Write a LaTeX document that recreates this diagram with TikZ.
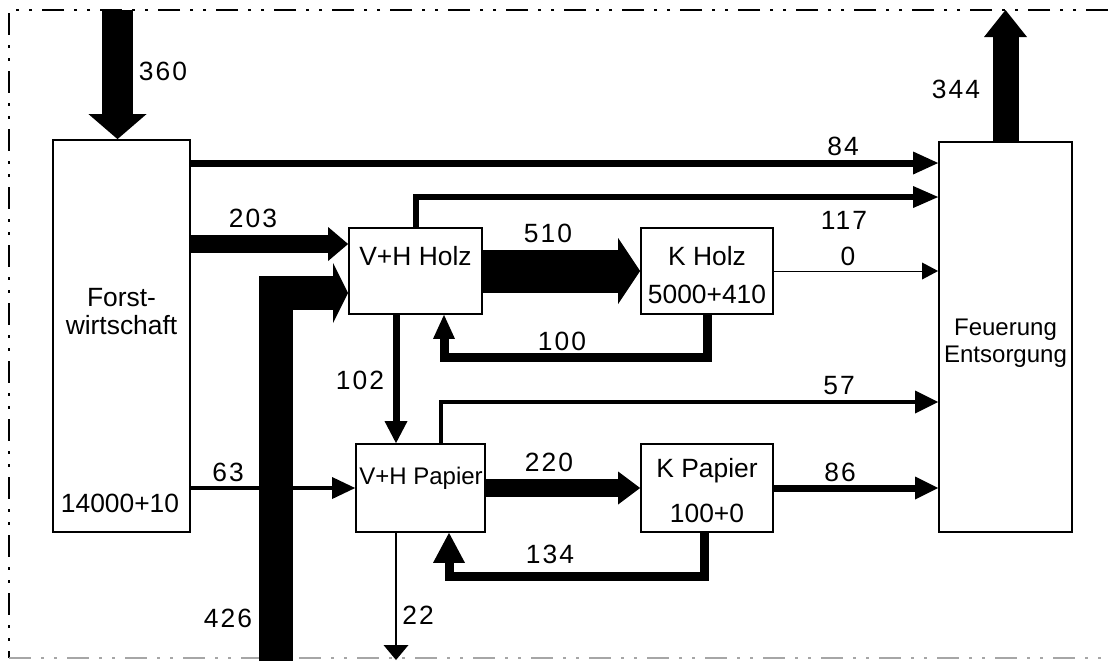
\documentclass[tikz,border=0pt]{standalone}
\usepackage{fontspec}
\setmainfont{Liberation Sans}
\newfontfamily\zahlfont[LetterSpace=8]{Liberation Sans}
\usetikzlibrary{arrows.meta, calc}

\tikzset{
  kasten/.style={draw, line width=0.9pt, fill=white, inner sep=0pt},
  rahmen/.style={line width=1pt,
    dash pattern=on 11pt off 5pt on 1.5pt off 5pt on 1.5pt off 5pt},
  strom/.style={line width=#1},
  spitze/.style 2 args={-{Triangle[length=#1, width=#2, line width=0pt]}},
  txt/.style={anchor=base, inner sep=0pt},
  engtxt/.style={txt, font=\fontsize{12}{14}\selectfont},
  zahl/.style={anchor=base, inner sep=0pt,
    font={\zahlfont\fontsize{13.2}{15}\selectfont}}
}

\begin{document}
\begin{tikzpicture}[x=0.5pt, y=-0.5pt, font=\fontsize{13.2}{15}\selectfont]
  \useasboundingbox (0,0) rectangle (1108,661);

  % Bilanzgrenze
  \draw[rahmen] (1108,10) -- (9,10) -- (9,658);
  \draw[rahmen, black!35] (9,658) -- (1108,658);

  % Prozesse
  \node[kasten, minimum width=68.5pt, minimum height=196pt] (forst) at (121.5,336) {};
  \node[kasten, minimum width=66.5pt, minimum height=195pt] (feuer) at (1005.5,337) {};
  \node[kasten, minimum width=66.5pt, minimum height=43pt] (vhholz) at (415.5,271) {};
  \node[kasten, minimum width=66pt, minimum height=43pt] (kholz) at (707,271) {};
  \node[kasten, minimum width=64.5pt, minimum height=44pt] (vhpap) at (420.5,488) {};
  \node[kasten, minimum width=66pt, minimum height=44pt] (kpap) at (707,488) {};

  \node[txt] (forst-a) at (121.5,306) {Forst-};
  \node[txt] (forst-b) at (121.5,334) {wirtschaft};
  \node[txt] (forst-c) at (120,512) {14000+10};
  \node[engtxt] (feuer-a) at (1005.5,335) {Feuerung};
  \node[engtxt] (feuer-b) at (1005.5,362) {Entsorgung};
  \node[txt] (vhholz-t) at (415.5,265) {V+H Holz};
  \node[txt] (kholz-a) at (707,265) {K Holz};
  \node[txt] (kholz-b) at (707,303) {5000+410};
  \node[engtxt] (vhpap-t) at (421,484) {V+H Papier};
  \node[txt] (kpap-a) at (707,477) {K Papier};
  \node[txt] (kpap-b) at (707,522) {100+0};

  % offene Enden
  \coordinate (ein360) at (117.5,10);
  \coordinate (aus344) at (1005.5,10);
  \coordinate (ein426) at (276,661);
  \coordinate (aus22) at (396,660);

  % Flüsse
  \draw[strom=15.5pt, spitze={12.5pt}{29pt}] (ein360) -- (ein360 |- forst.north);
  \draw[strom=13pt, spitze={13.5pt}{21.5pt}] (feuer.north) -- (aus344);
  \draw[strom=3.5pt, spitze={12.5pt}{11.5pt}] (forst.east |- 0,163) -- (feuer.west |- 0,163);
  \draw[strom=3pt, spitze={12.5pt}{11pt}] (vhholz.north) |- (feuer.west |- 0,197);
  \draw[strom=0.5pt, spitze={8pt}{8.5pt}] (kholz.east) -- (kholz.east -| feuer.west);
  \draw[strom=9pt, spitze={10pt}{17pt}] (forst.east |- 0,244) -- (vhholz.west |- 0,244);
  \draw[strom=2pt, spitze={11.5pt}{11pt}] (forst.east |- 0,488) -- (vhpap.west |- 0,488);
  \draw[strom=17pt, spitze={7.5pt}{30pt}] (ein426) |- (vhholz.west |- 0,293);
  \draw[strom=21.5pt, spitze={11pt}{33pt}] (vhholz.east) -- (kholz.west);
  \draw[strom=4.5pt, spitze={12pt}{11pt}] (kholz.south) -- ++(0,43) -| ($(vhholz.south)+(28.5,0)$);
  \draw[strom=3.5pt, spitze={11pt}{11.5pt}] ($(vhholz.south)+(-19.5,0)$) -- ($(vhpap.north)+(-24.5,0)$);
  \draw[strom=2pt, spitze={11.5pt}{11.5pt}] ($(vhpap.north)+(20.5,0)$) |- (feuer.west |- 0,402);
  \draw[strom=9pt, spitze={11pt}{16.5pt}] (vhpap.east) -- (kpap.west);
  \draw[strom=3.5pt, spitze={11.5pt}{11.5pt}] (kpap.east) -- (kpap.east -| feuer.west);
  \draw[strom=4.5pt, spitze={15pt}{16pt}] ($(kpap.south)+(-3,0)$) -- ++(0,44) -| ($(vhpap.south)+(28.5,0)$);
  \draw[strom=0.75pt, spitze={7.5pt}{12.5pt}] ($(vhpap.south)+(-24.5,0)$) -- (aus22);

  % Werte
  \node[zahl] (w360) at (163,80) {360};
  \node[zahl] (w344) at (956,98) {344};
  \node[zahl] (w84) at (843,155) {84};
  \node[zahl] (w117) at (844,229) {117};
  \node[zahl] (w0) at (848,265) {0};
  \node[zahl] (w203) at (253,227) {203};
  \node[zahl] (w510) at (548,242) {510};
  \node[zahl] (w100) at (562,350) {100};
  \node[zahl] (w102) at (360,389) {102};
  \node[zahl] (w63) at (228,481) {63};
  \node[zahl] (w220) at (549,471) {220};
  \node[zahl] (w86) at (840,481) {86};
  \node[zahl] (w57) at (839,394) {57};
  \node[zahl] (w134) at (550,563) {134};
  \node[zahl] (w426) at (228,627) {426};
  \node[zahl] (w22) at (418,624) {22};
\end{tikzpicture}
\end{document}
